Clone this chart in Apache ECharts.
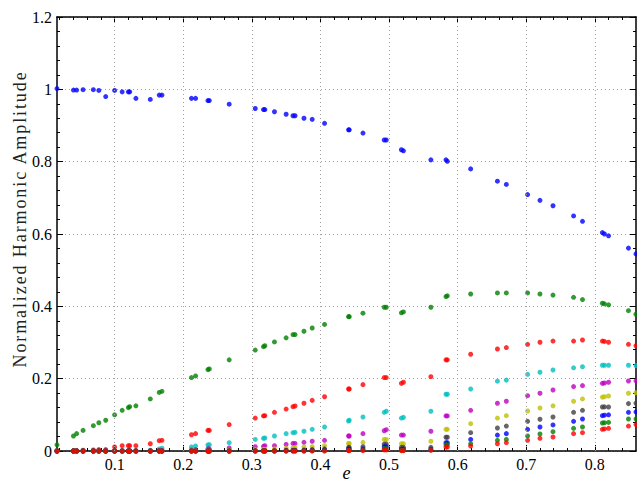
<!DOCTYPE html>
<html>
<head>
<meta charset="utf-8">
<script src="https://cdn.jsdelivr.net/npm/echarts@6/dist/echarts.min.js"></script>
<style>html,body{margin:0;padding:0;background:#fff;}#c{width:637px;height:485px;}</style>
</head>
<body>
<div id="c"></div>
<script>
// eccentricity values (shared x for all harmonics)
const eVals = [0.016,0.040,0.0446,0.054,0.069,0.077,0.087,0.100,0.111,0.120,0.122,0.131,0.152,0.165,0.169,0.212,0.218,0.236,0.238,0.267,0.305,0.317,0.319,0.333,0.350,0.360,0.363,0.376,0.388,0.406,0.441,0.442,0.462,0.493,0.496,0.518,0.521,0.561,0.583,0.585,0.619,0.658,0.671,0.702,0.720,0.739,0.769,0.782,0.811,0.814,0.820,0.849,0.860];

const h1 = [1.002,0.998,0.998,0.999,0.999,0.997,0.980,0.997,0.993,0.993,0.993,0.975,0.972,0.984,0.984,0.975,0.975,0.969,0.969,0.959,0.947,0.944,0.944,0.938,0.931,0.927,0.927,0.920,0.917,0.906,0.888,0.888,0.879,0.860,0.860,0.833,0.830,0.805,0.805,0.801,0.780,0.746,0.737,0.709,0.693,0.678,0.650,0.635,0.604,0.600,0.595,0.561,0.545];
const h2 = [0.017,0.0415,0.048,0.057,0.070,0.078,0.085,0.100,0.1125,0.120,0.1225,0.125,0.144,0.162,0.165,0.203,0.2075,0.225,0.227,0.252,0.279,0.2885,0.291,0.3015,0.313,0.322,0.322,0.331,0.340,0.350,0.3715,0.3715,0.381,0.3975,0.3975,0.382,0.3845,0.3975,0.427,0.429,0.434,0.437,0.437,0.437,0.434,0.431,0.425,0.4186,0.4086,0.407,0.404,0.388,0.378];
const h3 = [0.001,0.001,0.001,0.002,0.003,0.004,0.004,0.011,0.0147,0.0147,0.0147,0.0147,0.020,0.0285,0.0296,0.045,0.048,0.057,0.057,0.073,0.091,0.097,0.0977,0.107,0.116,0.1225,0.1245,0.132,0.140,0.150,0.1715,0.1715,0.1835,0.203,0.203,0.187,0.190,0.2055,0.252,0.252,0.2675,0.282,0.286,0.295,0.3007,0.304,0.304,0.307,0.304,0.303,0.3007,0.295,0.291];
const h4 = [0,0,0,0,0,0,0,0.001,0.001,0.001,0.001,0.001,0.002,0.0055,0.0075,0.011,0.014,0.0166,0.0175,0.023,0.032,0.035,0.036,0.0415,0.048,0.0506,0.0517,0.0545,0.060,0.0664,0.083,0.085,0.094,0.107,0.110,0.091,0.093,0.110,0.157,0.157,0.1715,0.193,0.196,0.212,0.2177,0.224,0.230,0.233,0.237,0.237,0.237,0.237,0.236];
const h5 = [0,0,0,0,0,0,0,0,0,0,0,0,0,0.001,0.001,0.003,0.004,0.006,0.006,0.0085,0.012,0.013,0.0147,0.0147,0.0185,0.021,0.021,0.024,0.027,0.0296,0.0415,0.0415,0.048,0.056,0.059,0.044,0.044,0.0545,0.097,0.097,0.1125,0.132,0.1375,0.153,0.1596,0.1687,0.178,0.1807,0.187,0.188,0.190,0.1936,0.194];
const h6 = [0,0,0,0,0,0,0,0,0,0,0,0,0,0,0,0.001,0.001,0.001,0.001,0.002,0.004,0.005,0.005,0.006,0.008,0.009,0.009,0.011,0.012,0.015,0.021,0.021,0.024,0.032,0.032,0.020,0.020,0.027,0.060,0.060,0.0755,0.091,0.0977,0.1107,0.119,0.125,0.1375,0.144,0.149,0.150,0.152,0.1596,0.161];
const h7 = [0,0,0,0,0,0,0,0,0,0,0,0,0,0,0,0,0,0,0,0,0.001,0.001,0.001,0.001,0.002,0.002,0.002,0.003,0.004,0.006,0.010,0.010,0.012,0.019,0.019,0.010,0.010,0.010,0.038,0.038,0.0506,0.0636,0.069,0.082,0.0877,0.094,0.107,0.1125,0.1217,0.122,0.1217,0.131,0.132];
const h8 = [0,0,0,0,0,0,0,0,0,0,0,0,0,0,0,0,0,0,0,0,0,0,0,0,0.001,0.001,0.001,0.001,0.002,0.003,0.005,0.005,0.006,0.012,0.012,0.005,0.005,0.005,0.023,0.023,0.032,0.044,0.048,0.060,0.0664,0.072,0.082,0.0885,0.0977,0.099,0.100,0.107,0.108];
const h9 = [0,0,0,0,0,0,0,0,0,0,0,0,0,0,0,0,0,0,0,0,0,0,0,0,0,0,0,0,0.001,0.001,0.002,0.002,0.003,0.007,0.007,0.002,0.002,0.003,0.0175,0.0175,0.020,0.0296,0.032,0.0415,0.047,0.0534,0.0627,0.0664,0.0775,0.078,0.079,0.0885,0.0885];
const h10 = [0,0,0,0,0,0,0,0,0,0,0,0,0,0,0,0,0,0,0,0,0,0,0,0,0,0,0,0,0,0,0.001,0.001,0.001,0.003,0.003,0.001,0.001,0.002,0.011,0.011,0.0138,0.020,0.023,0.0296,0.035,0.0387,0.048,0.0506,0.060,0.061,0.0627,0.069,0.073];

const harmonics = [h1,h2,h3,h4,h5,h6,h7,h8,h9,h10];
const colors = ['#0000ff','#008000','#ff0000','#00bfbf','#bf00bf','#bfbf00','#404040','#0000ff','#008000','#ff0000'];

const xMajor = [0.1,0.2,0.3,0.4,0.5,0.6,0.7,0.8];
const xMinor = [0.02,0.04,0.06,0.08,0.12,0.14,0.16,0.18,0.22,0.24,0.26,0.28,0.32,0.34,0.36,0.38,0.42,0.44,0.46,0.48,0.52,0.54,0.56,0.58,0.62,0.64,0.66,0.68,0.72,0.74,0.76,0.78,0.82,0.84];
const xMin = 0.016, xMax = 0.86;
const yLabel = 'Normalized Harmonic Amplitude';

const font = 'Liberation Serif';
const lineStyle = {color:'#000', width:1.5};
const gridLine = {color:'#a0a0a0', type:[1,3], width:1};

function xAx(pos, vals, len, labels, line){
  return {
    type:'value', position:pos, min:xMin, max:xMax,
    axisLine:{show:line, onZero:false, lineStyle},
    axisTick:{show:true, inside:true, length:len, customValues:vals, lineStyle:{color:'#000',width:1}},
    axisLabel:{show:labels, customValues:vals, fontFamily:font, fontSize:16, color:'#000', margin:5},
    splitLine:{show:false},
    minorTick:{show:false}
  };
}

const xAxes = [
  Object.assign(xAx('bottom', xMajor, 6, true, true), {name:'e', nameLocation:'middle', nameGap:13, nameMoveOverlap:false, nameTextStyle:{fontFamily:font, fontStyle:'italic', fontSize:18, color:'#000'}}),
  xAx('bottom', xMinor, 3, false, false),
  xAx('top', xMajor, 6, false, true),
  xAx('top', xMinor, 3, false, false)
];

function yAx(pos, labels, split){
  return {
    type:'value', position:pos, min:0, max:1.2, interval:0.2,
    axisLine:{show:true, onZero:false, lineStyle},
    axisTick:{show:true, inside:true, length:6, lineStyle:{color:'#000',width:1}},
    minorTick:{show:true, splitNumber:5, length:3, lineStyle:{color:'#000',width:1}},
    axisLabel:{show:labels, fontFamily:font, fontSize:16, color:'#000', margin:5},
    splitLine:{show:split, lineStyle:gridLine}
  };
}
const yAxes = [
  Object.assign(yAx('left', true, true), {name:yLabel, nameLocation:'middle', nameGap:28, nameMoveOverlap:false,
    nameTextStyle:{fontFamily:font, fontSize:18, color:'#222', padding:[0,0,0,30]}}),
  yAx('right', false, false)
];

// vertical dotted grid lines at the major x ticks, placed through the x scale
const gridSeries = {
  type:'scatter', data:[], xAxisIndex:0, yAxisIndex:0, silent:true,
  markLine:{silent:true, symbol:['none','none'], label:{show:false}, animation:false,
    lineStyle:gridLine, emphasis:{disabled:true},
    data: xMajor.map(v => ({xAxis:v}))}
};

const series = [gridSeries].concat(harmonics.map((h, i) => ({
  type:'scatter', name:'H'+(i+1), xAxisIndex:0, yAxisIndex:0,
  symbol:'circle', symbolSize:5, clip:true,
  itemStyle:{color:colors[i]},
  data: eVals.map((e, j) => [e, h[j]])
})));

const chart = echarts.init(document.getElementById('c'), null, {renderer:'svg'});
chart.setOption({
  animation:false,
  backgroundColor:'#fff',
  grid:{left:57, right:1, top:17, bottom:34, containLabel:false, outerBoundsMode:'none'},
  xAxis:xAxes,
  yAxis:yAxes,
  series
});
// widen letter spacing of the y-axis title to match the reference typesetting
function spaceLabel(){
  document.querySelectorAll('#c text').forEach(t => {
    if (t.textContent === yLabel) t.style.letterSpacing = '1.9px';
  });
}
spaceLabel();
chart.on('finished', spaceLabel);
</script>
</body>
</html>
